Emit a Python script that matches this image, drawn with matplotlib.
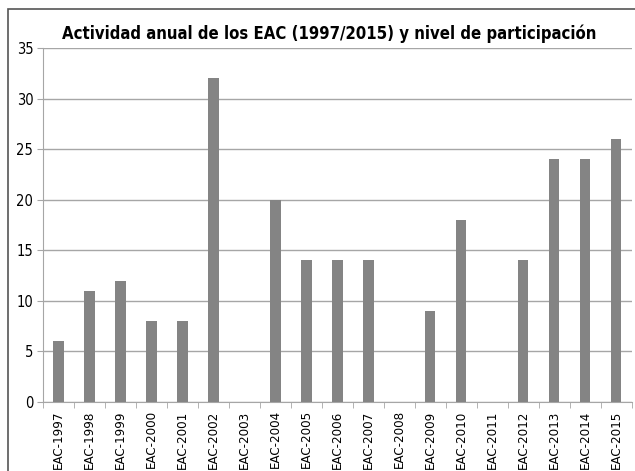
import matplotlib
matplotlib.use('Agg')
import matplotlib.pyplot as plt
from matplotlib.patches import Rectangle

# Datos
anios = ['EAC-1997', 'EAC-1998', 'EAC-1999', 'EAC-2000', 'EAC-2001', 'EAC-2002',
         'EAC-2003', 'EAC-2004', 'EAC-2005', 'EAC-2006', 'EAC-2007', 'EAC-2008',
         'EAC-2009', 'EAC-2010', 'EAC-2011', 'EAC-2012', 'EAC-2013', 'EAC-2014',
         'EAC-2015']
valores = [6, 11, 12, 8, 8, 32, 0, 20, 14, 14, 14, 0, 9, 18, 0, 14, 24, 24, 26]
yticks = [0, 5, 10, 15, 20, 25, 30, 35]

plt.rcParams['font.family'] = ['DejaVu Sans']
plt.rcParams['font.stretch'] = 'condensed'

fig = plt.figure(figsize=(6.35, 4.71), dpi=100)
ax = fig.add_axes([0.0677, 0.1465, 0.9273, 0.7515])

# Marco exterior
fig.patches.append(Rectangle((8 / 635, -0.01), 1.0, 1 - 9 / 471 + 0.01,
                             transform=fig.transFigure, fill=False,
                             edgecolor='#555555', linewidth=1.2))

x = range(len(anios))
ax.bar(x, valores, width=0.33, color='#848484', zorder=3)

ax.set_xlim(-0.5, len(anios) - 0.5)
ax.set_ylim(0, 35)
ax.set_yticks(yticks)
ax.yaxis.grid(True, color='#a6a6a6', linewidth=1.0, zorder=0)

ax.set_xticks(x)
ax.set_xticklabels(anios, rotation=90, fontsize=9.5)
ax.set_xticks([i + 0.5 for i in range(-1, len(anios))], minor=True)
ax.tick_params(axis='x', which='major', length=0, pad=6)
ax.tick_params(axis='x', which='minor', length=4, color='#a6a6a6')
ax.tick_params(axis='y', length=4, color='#a6a6a6', labelsize=10.5, pad=3)

for s in ['top', 'right']:
    ax.spines[s].set_visible(False)
for s in ['left', 'bottom']:
    ax.spines[s].set_color('#a6a6a6')

fig.text(0.518, 0.929, 'Actividad anual de los EAC (1997/2015) y nivel de participación',
         ha='center', va='center', fontsize=12, fontweight='bold')

fig.savefig('out.png', dpi=100)
